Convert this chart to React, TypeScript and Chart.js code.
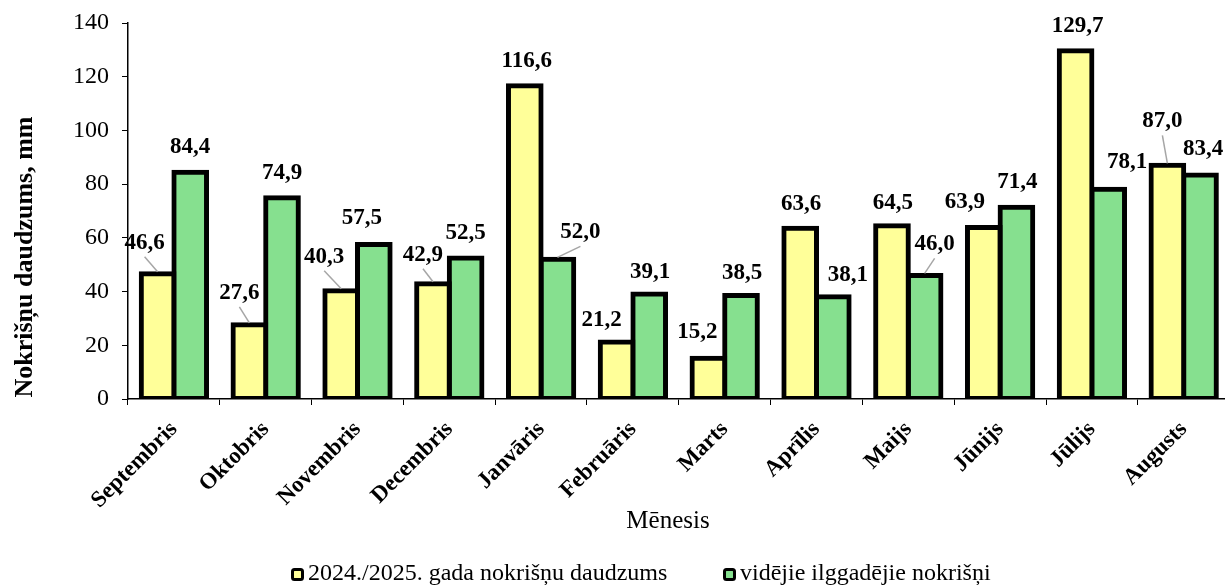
import React, { useEffect, useRef } from 'react';
import { Chart, registerables } from 'chart.js';

Chart.register(...registerables);

const months = ['Septembris', 'Oktobris', 'Novembris', 'Decembris', 'Janvāris', 'Februāris', 'Marts', 'Aprīlis', 'Maijs', 'Jūnijs', 'Jūlijs', 'Augusts'];
const currentSeason = [46.6, 27.6, 40.3, 42.9, 116.6, 21.2, 15.2, 63.6, 64.5, 63.9, 129.7, 87.0];
const longTermAverage = [84.4, 74.9, 57.5, 52.5, 52.0, 39.1, 38.5, 38.1, 46.0, 71.4, 78.1, 83.4];
const seriesNames = ['2024./2025. gada nokrišņu daudzums', 'vidējie ilggadējie nokrišņi'];
const yMin = 0;
const yMax = 140;
const yStep = 20;
const xTitle = 'Mēnesis';
const yTitle = 'Nokrišņu daudzums, mm';

// label placement (style): [dx, dy] from bar top-centre, and whether a leader line is drawn
const currentLabelOffsets = [[-13, -31], [-10, -32], [-17, -34], [-10, -29], [2, -25], [-15, -22], [-11, -26], [1, -24], [1, -23], [-19, -25], [2, -25], [-5, -44]];
const currentLeader = [true, true, true, true, false, false, false, false, false, false, false, true];
const averageLabelOffsets = [[0, -25], [0, -25], [-12, -27], [0, -25], [23, -27], [1, -22], [1, -23], [15, -22], [10, -31], [1, -25], [19, -27], [3, -26]];
const averageLeader = [false, false, false, false, true, false, false, false, true, false, false, false];

const YELLOW = '#FFFF99';
const GREEN = '#86E08F';
const FONT = "'Liberation Serif', 'Times New Roman', serif";

const W = 1240;
const H = 585;

const fmt = (v: number) => v.toFixed(1).replace('.', ',');

const labelPlugin = {
  id: 'customLabels',
  afterDatasetsDraw(chart: any) {
    const ctx = chart.ctx;
    const offsets = [currentLabelOffsets, averageLabelOffsets];
    const leaders = [currentLeader, averageLeader];
    ctx.save();
    chart.data.datasets.forEach((ds: any, di: number) => {
      const meta = chart.getDatasetMeta(di);
      meta.data.forEach((el: any, i: number) => {
        const [dx, dy] = offsets[di][i];
        const lx = el.x + dx;
        const ly = el.y + dy;
        if (leaders[di][i]) {
          ctx.strokeStyle = '#A6A6A6';
          ctx.lineWidth = 1.5;
          ctx.beginPath();
          ctx.moveTo(lx, ly + 14);
          ctx.lineTo(el.x, el.y - 2);
          ctx.stroke();
        }
        ctx.fillStyle = '#000';
        ctx.font = `bold 23px ${FONT}`;
        ctx.textAlign = 'center';
        ctx.textBaseline = 'middle';
        ctx.fillText(fmt(ds.data[i]), lx, ly);
      });
    });
    ctx.restore();
  },
  afterDraw(chart: any) {
    const ctx = chart.ctx;
    ctx.save();
    ctx.translate(25, 257);
    ctx.rotate(-Math.PI / 2);
    ctx.font = `bold 26px ${FONT}`;
    ctx.fillStyle = '#000';
    ctx.textAlign = 'center';
    ctx.textBaseline = 'middle';
    ctx.fillText(yTitle, 0, 0);
    ctx.restore();

    ctx.save();
    ctx.font = `25px ${FONT}`;
    ctx.fillStyle = '#000';
    ctx.textAlign = 'center';
    ctx.textBaseline = 'middle';
    ctx.fillText(xTitle, 668, 521);
    ctx.restore();

    const items = [
      { x: 291, color: YELLOW, text: seriesNames[0] },
      { x: 723, color: GREEN, text: seriesNames[1] },
    ];
    ctx.save();
    items.forEach((it) => {
      const bx = it.x, by = 568, bw = 13, bh = 13;
      ctx.beginPath();
      if ((ctx as any).roundRect) (ctx as any).roundRect(bx + 1.5, by + 1.5, bw - 3, bh - 3, 2);
      else ctx.rect(bx + 1.5, by + 1.5, bw - 3, bh - 3);
      ctx.fillStyle = it.color;
      ctx.fill();
      ctx.lineWidth = 3;
      ctx.strokeStyle = '#000';
      ctx.stroke();
      ctx.font = `24px ${FONT}`;
      ctx.fillStyle = '#000';
      ctx.textAlign = 'left';
      ctx.textBaseline = 'middle';
      ctx.fillText(it.text, bx + bw + 4, 574);
    });
    ctx.restore();
  },
};

export default function App() {
  const ref = useRef<HTMLCanvasElement | null>(null);
  useEffect(() => {
    if (!ref.current) return;
    const barCommon = {
      borderColor: '#000',
      borderWidth: 5,
      borderSkipped: false,
      inflateAmount: 2.5,
      categoryPercentage: 0.711,
      barPercentage: 1,
    };
    const chart = new Chart(ref.current, {
      type: 'bar',
      data: {
        labels: months,
        datasets: [
          { label: seriesNames[0], data: currentSeason, backgroundColor: YELLOW, ...barCommon } as any,
          { label: seriesNames[1], data: longTermAverage, backgroundColor: GREEN, ...barCommon } as any,
        ],
      },
      options: {
        responsive: false,
        animation: false,
        devicePixelRatio: 1,
        layout: { padding: { left: 0, top: 23, right: 10.4, bottom: 0 } },
        plugins: { legend: { display: false }, tooltip: { enabled: false } },
        scales: {
          x: {
            offset: true,
            grid: { display: true, drawOnChartArea: false, drawTicks: true, tickLength: 6, color: '#000', offset: true, lineWidth: 1 },
            border: { display: true, color: '#000', width: 1.5 },
            ticks: {
              font: { family: FONT, size: 23, weight: 'bold' },
              color: '#000',
              maxRotation: 45,
              minRotation: 45,
              padding: 11,
              autoSkip: false,
            },
            afterFit: (s: any) => { s.height = 186; },
          },
          y: {
            min: yMin,
            max: yMax,
            ticks: { stepSize: yStep, font: { family: FONT, size: 24, lineHeight: 0.8 }, color: '#000', padding: 13 },
            grid: { display: true, drawOnChartArea: false, drawTicks: true, tickLength: 6, color: '#000', lineWidth: 1 },
            border: { display: true, color: '#000', width: 1.5 },
            afterFit: (s: any) => { s.width = 128; },
          },
        },
      } as any,
      plugins: [labelPlugin],
    });
    return () => chart.destroy();
  }, []);
  return (
    <div style={{ position: 'fixed', left: 0, top: 0, width: '1225px', height: '585px', overflow: 'hidden', background: '#fff' }}>
      <canvas ref={ref} width={W} height={H} style={{ display: 'block', width: `${W}px`, height: `${H}px` }} />
    </div>
  );
}
